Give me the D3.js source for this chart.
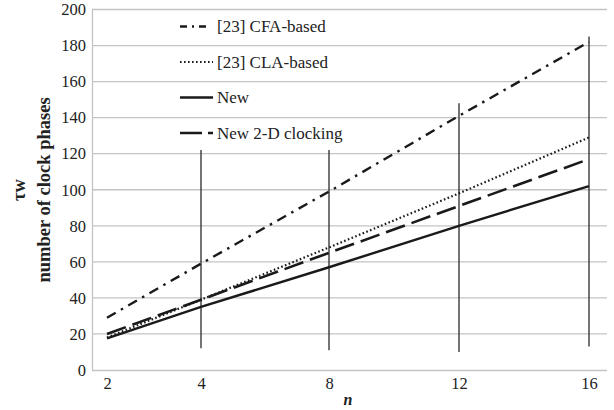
<!DOCTYPE html>
<html>
<head>
<meta charset="utf-8">
<script src="https://cdn.jsdelivr.net/npm/d3@7/dist/d3.min.js"></script>
<style>
  body { margin: 0; background: #fff; }
  .grid line { stroke: #c4c4c4; stroke-width: 1.3; }
  .axis path { stroke: #c4c4c4; stroke-width: 1.3; }
  .series { fill: none; stroke: #1a1a1a; }
</style>
</head>
<body>
<div id="chart"></div>
<script>
// n values (x categories) and tick labels
var nValues = [2, 4, 8, 12, 16];
var yTicks = [0, 20, 40, 60, 80, 100, 120, 140, 160, 180, 200];

// series values
var cfaBased = [29, 59, 99, 141, 182];
var claBased = [18, 39, 68, 98, 129];
var newDesign = [17.5, 35, 57, 80, 102];
var new2D = [20, 39, 65, 91, 117];

// vertical marker lines at n = 4, 8, 12, 16
var markerN = [4, 8, 12, 16];
var markerLow = [12, 11, 10, 13];
var markerHigh = [122, 122, 148, 185];

var seriesNames = ['[23] CFA-based', '[23] CLA-based', 'New', 'New 2-D clocking'];

var serif = '"Liberation Serif", "Times New Roman", Times, "DejaVu Serif", serif';
var width = 614, height = 410;
var plot = { left: 92, right: 607, top: 9.5, bottom: 370 };

var svg = d3.select('#chart').append('svg')
    .attr('width', width)
    .attr('height', height)
    .attr('font-family', serif);

// the x positions of the categories are not evenly spaced in the original
var x = d3.scaleLinear()
    .domain(nValues)
    .range([107, 201, 329, 459, 589]);

var y = d3.scaleLinear()
    .domain([0, 200])
    .range([plot.bottom, plot.top]);

// gridlines
svg.append('g')
    .attr('class', 'grid')
    .selectAll('line')
    .data(yTicks.slice(1))
    .enter()
    .append('line')
    .attr('x1', plot.left)
    .attr('x2', plot.right)
    .attr('y1', function (d) { return y(d); })
    .attr('y2', function (d) { return y(d); });

// y axis
var yAxis = svg.append('g')
    .attr('class', 'axis axis--y')
    .attr('transform', 'translate(' + plot.left + ',0)')
    .call(d3.axisLeft(y).tickValues(yTicks).tickSize(0).tickPadding(6));

// x axis
var xAxis = svg.append('g')
    .attr('class', 'axis axis--x')
    .attr('transform', 'translate(0,' + plot.bottom + ')')
    .call(d3.axisBottom(x).tickValues(nValues).tickSize(0).tickPadding(7));
xAxis.select('.domain').attr('d', 'M' + plot.left + ',0.5H' + plot.right);

svg.selectAll('.axis')
    .attr('font-family', serif)
    .attr('font-size', 16.5);
svg.selectAll('.axis text')
    .style('font-family', serif)
    .attr('fill', '#222');

// vertical marker lines
svg.append('g')
    .selectAll('line')
    .data(markerN)
    .enter()
    .append('line')
    .attr('x1', function (d) { return x(d); })
    .attr('x2', function (d) { return x(d); })
    .attr('y1', function (d, i) { return y(markerLow[i]); })
    .attr('y2', function (d, i) { return y(markerHigh[i]); })
    .attr('stroke', '#2a2a2a')
    .attr('stroke-width', 1.3);

var series = [
    { name: seriesNames[0], values: cfaBased, dash: '10,6,2.5,6', width: 2.4 },
    { name: seriesNames[1], values: claBased, dash: '1.6,2.4', width: 2.2 },
    { name: seriesNames[2], values: newDesign, dash: null, width: 2.4 },
    { name: seriesNames[3], values: new2D, dash: '20,7', width: 2.6 }
];

var line = d3.line()
    .x(function (d, i) { return x(nValues[i]); })
    .y(function (d) { return y(d); });

svg.append('g')
    .selectAll('path')
    .data(series)
    .enter()
    .append('path')
    .attr('class', 'series')
    .attr('d', function (d) { return line(d.values); })
    .attr('stroke-width', function (d) { return d.width; })
    .attr('stroke-dasharray', function (d) { return d.dash; });

// legend
var legend = svg.append('g')
    .attr('class', 'legend')
    .selectAll('g')
    .data(series)
    .enter()
    .append('g')
    .attr('transform', function (d, i) { return 'translate(180,' + (26.5 + i * 35.5) + ')'; });

legend.append('line')
    .attr('x1', 0)
    .attr('x2', 33)
    .attr('stroke', '#1a1a1a')
    .attr('stroke-width', function (d) { return d.width; })
    .attr('stroke-dasharray', function (d, i) {
        if (i === 0) return '7,5,2,5,7';
        if (i === 3) return '22,6,5';
        return d.dash;
    });

legend.append('text')
    .attr('x', 37)
    .attr('dy', '0.35em')
    .attr('fill', '#222')
    .style('font-family', serif)
    .style('font-size', '17px')
    .text(function (d) { return d.name; });

// y axis title
var yTitle = svg.append('text')
    .attr('transform', 'translate(30,190) rotate(-90)')
    .attr('text-anchor', 'middle')
    .attr('fill', '#222')
    .style('font-family', serif)
    .style('font-size', '18.5px')
    .style('font-weight', 'bold');
yTitle.append('tspan')
    .attr('x', 0)
    .attr('dy', '-0.25em')
    .text('τw');
yTitle.append('tspan')
    .attr('x', 0)
    .attr('dy', '1.35em')
    .text('number of clock phases');

// x axis title
svg.append('text')
    .attr('x', 348)
    .attr('y', 405)
    .attr('text-anchor', 'middle')
    .attr('fill', '#222')
    .style('font-family', serif)
    .style('font-size', '16px')
    .style('font-weight', 'bold')
    .style('font-style', 'italic')
    .text('n');
</script>
</body>
</html>
